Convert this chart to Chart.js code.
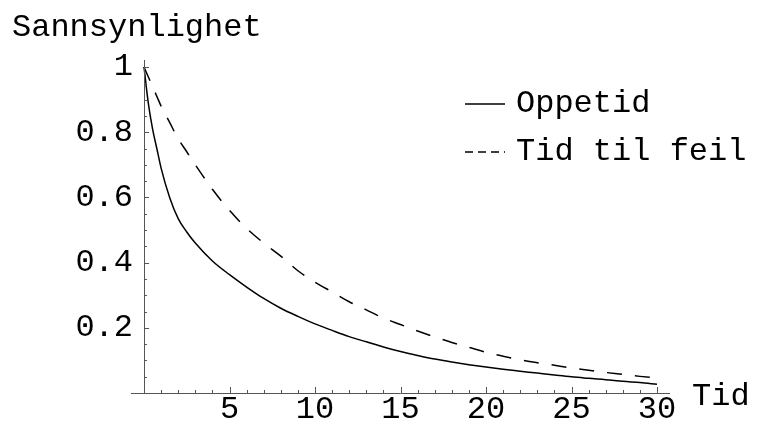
<!DOCTYPE html>
<html>
<head>
<meta charset="utf-8">
<script src="https://cdn.jsdelivr.net/npm/chart.js@4"></script>
<style>
  html, body { margin: 0; padding: 0; background: #fff; }
  #wrap { width: 762px; height: 424px; }
</style>
</head>
<body>
<div id="wrap"><canvas id="chart"></canvas></div>
<script>
// time points (shared by both curves)
const tid = [0, 0.25, 0.5, 0.75, 1, 1.5, 2, 2.5, 3, 4, 5, 6, 7, 8, 9, 10, 11, 12, 13, 14, 15,
  16, 17, 18, 19, 20, 21, 22, 23, 24, 25, 26, 27, 28, 29, 30];

// Oppetid (solid)
const oppetid = [1.0, 0.89, 0.81, 0.75, 0.69, 0.60, 0.535, 0.494, 0.46, 0.405, 0.363, 0.325,
  0.29, 0.26, 0.235, 0.212, 0.192, 0.173, 0.157, 0.141, 0.127, 0.115, 0.104, 0.095, 0.087,
  0.08, 0.073, 0.067, 0.061, 0.055, 0.05, 0.045, 0.041, 0.036, 0.032, 0.027];

// Tid til feil (dashed)
const tidTilFeil = [1.0, 0.97, 0.94, 0.91, 0.88, 0.83, 0.78, 0.74, 0.70, 0.625, 0.56, 0.505,
  0.46, 0.42, 0.375, 0.34, 0.31, 0.28, 0.255, 0.23, 0.21, 0.19, 0.172, 0.155, 0.14, 0.125,
  0.113, 0.102, 0.093, 0.085, 0.077, 0.07, 0.063, 0.057, 0.051, 0.046];

const xTicks = [5, 10, 15, 20, 25, 30];
const yTicks = [0.2, 0.4, 0.6, 0.8, 1];

const FONT = "'Liberation Mono', 'DejaVu Sans Mono', monospace";

function toPoints(xs, ys) {
  return xs.map((x, i) => ({ x: x, y: ys[i] }));
}

// axes drawn Mathematica-style, crossing at the origin
const axesPlugin = {
  id: 'axes',
  afterDraw(chart) {
    const ctx = chart.ctx;
    const xs = chart.scales.x;
    const ys = chart.scales.y;
    const x0 = xs.getPixelForValue(0);
    const y0 = ys.getPixelForValue(0);

    ctx.save();
    ctx.strokeStyle = '#555';
    ctx.lineWidth = 1;
    ctx.beginPath();
    // x axis
    ctx.moveTo(x0 - 13, y0 + 0.5);
    ctx.lineTo(xs.getPixelForValue(30) + 13, y0 + 0.5);
    // y axis
    ctx.moveTo(x0 + 0.5, y0);
    ctx.lineTo(x0 + 0.5, ys.getPixelForValue(1) - 7);

    // x ticks (upwards)
    for (let t = 1; t <= 30; t++) {
      const px = Math.round(xs.getPixelForValue(t)) + 0.5;
      const len = t % 5 === 0 ? 6 : 3;
      ctx.moveTo(px, y0);
      ctx.lineTo(px, y0 - len);
    }
    // y ticks (to the right)
    for (let k = 1; k <= 20; k++) {
      const py = Math.round(ys.getPixelForValue(k * 0.05)) + 0.5;
      const len = k % 4 === 0 ? 5 : 3;
      ctx.moveTo(x0, py);
      ctx.lineTo(x0 + len, py);
    }
    ctx.stroke();

    // axis titles
    ctx.fillStyle = '#000';
    ctx.font = '32px ' + FONT;
    ctx.textBaseline = 'middle';
    ctx.textAlign = 'left';
    ctx.fillText('Sannsynlighet', 12, 28);
    ctx.fillText('Tid', 692, y0 + 4);

    // legend
    chart.data.datasets.forEach((ds, i) => {
      const ly = 104 + i * 48;
      ctx.beginPath();
      ctx.strokeStyle = '#000';
      ctx.lineWidth = 1.3;
      ctx.setLineDash(ds.borderDash && ds.borderDash.length ? [8, 5] : []);
      ctx.moveTo(465, ly);
      ctx.lineTo(505, ly);
      ctx.stroke();
      ctx.setLineDash([]);
      ctx.fillText(ds.label, 516, ly);
    });
    ctx.restore();
  }
};

new Chart(document.getElementById('chart'), {
  type: 'line',
  data: {
    datasets: [
      {
        label: 'Oppetid',
        data: toPoints(tid, oppetid),
        borderColor: '#000',
        borderWidth: 1.5,
        pointRadius: 0,
        cubicInterpolationMode: 'monotone',
        clip: false
      },
      {
        label: 'Tid til feil',
        data: toPoints(tid, tidTilFeil),
        borderColor: '#000',
        borderWidth: 1.5,
        borderDash: [15, 13],
        pointRadius: 0,
        cubicInterpolationMode: 'monotone',
        clip: false
      }
    ]
  },
  options: {
    responsive: true,
    maintainAspectRatio: false,
    animation: false,
    layout: { padding: { top: 67, right: 105, bottom: 0, left: 0 } },
    plugins: {
      legend: { display: false },
      tooltip: { enabled: false }
    },
    scales: {
      x: {
        type: 'linear',
        min: 0,
        max: 30,
        grid: { display: false },
        border: { display: false },
        afterFit(scale) { scale.height = 31; },
        afterBuildTicks(scale) { scale.ticks = xTicks.map(v => ({ value: v })); },
        ticks: {
          color: '#000',
          padding: -11,
          maxRotation: 0,
          autoSkip: false,
          font: { family: FONT, size: 32 },
          callback: v => String(v)
        }
      },
      y: {
        type: 'linear',
        min: 0,
        max: 1,
        grid: { display: false },
        border: { display: false },
        afterFit(scale) { scale.width = 144; },
        afterBuildTicks(scale) { scale.ticks = yTicks.map(v => ({ value: v })); },
        ticks: {
          color: '#000',
          padding: 3,
          autoSkip: false,
          font: { family: FONT, size: 32 },
          callback: v => String(v)
        }
      }
    }
  },
  plugins: [axesPlugin]
});
</script>
</body>
</html>
